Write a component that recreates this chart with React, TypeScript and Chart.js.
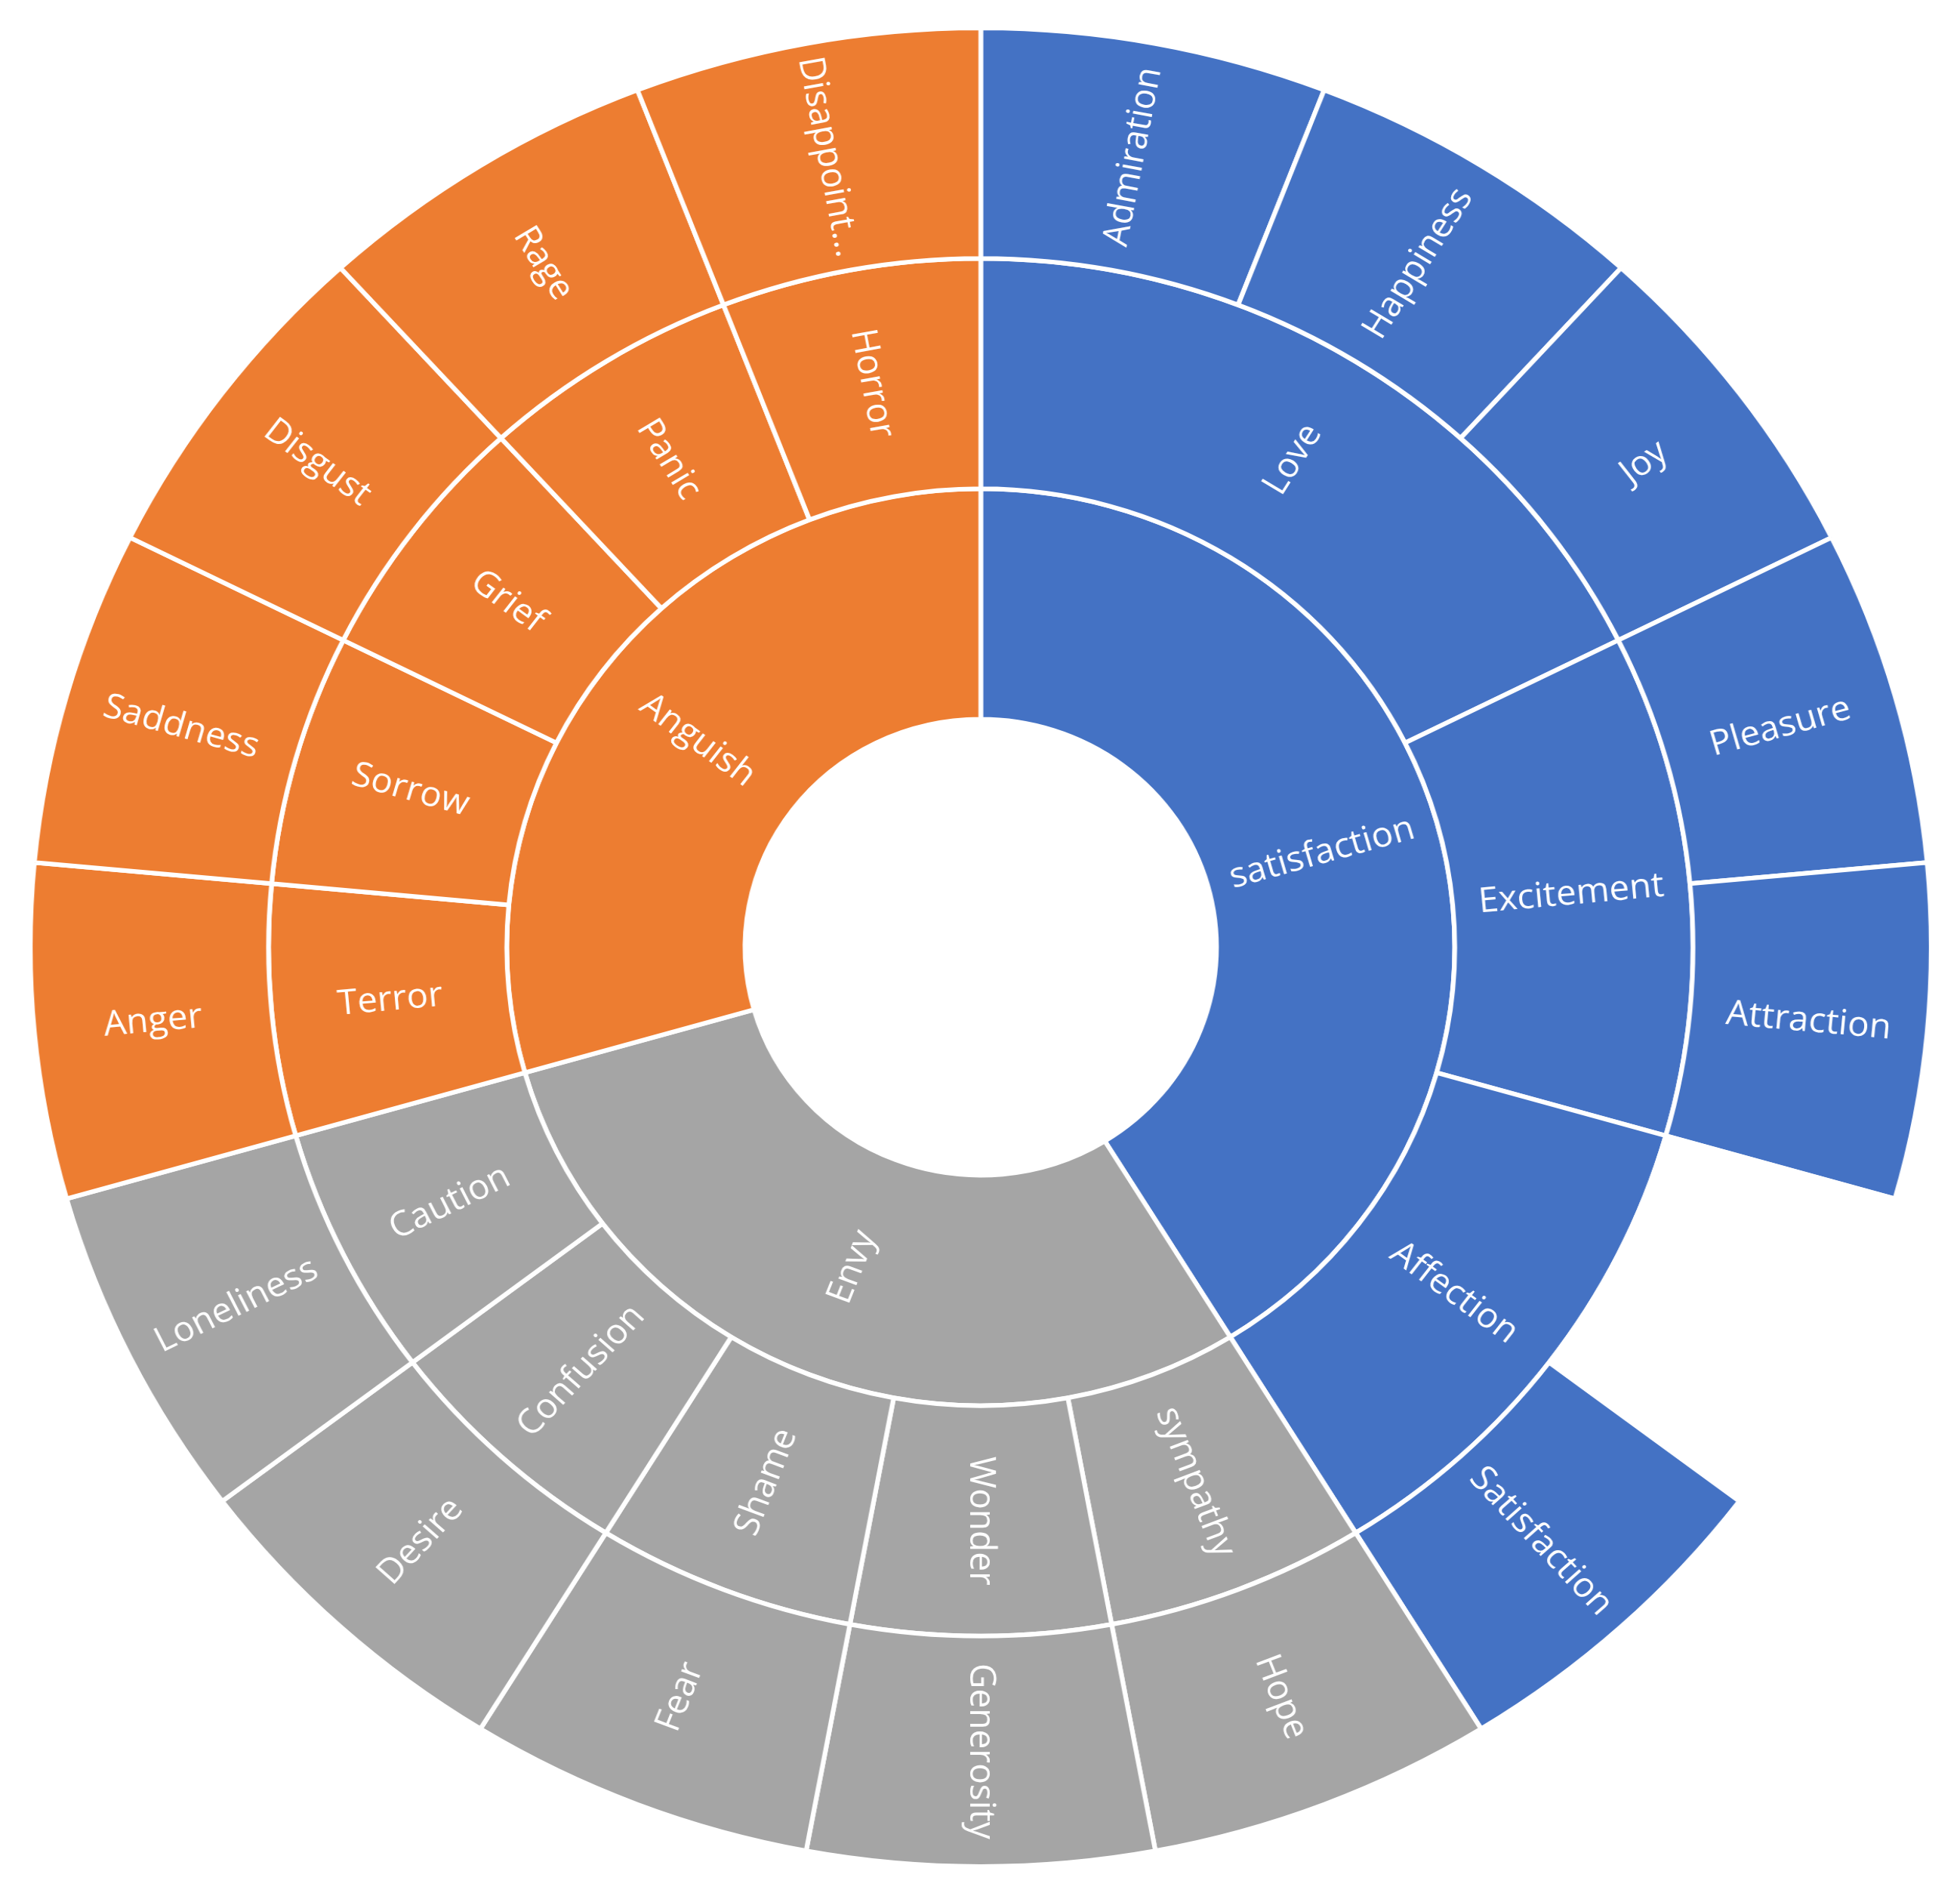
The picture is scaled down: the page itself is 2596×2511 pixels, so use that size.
import React, { useEffect, useRef } from "react";
import { Chart, registerables } from "chart.js";

Chart.register(...registerables);

// Branch colours (Office palette)
const branchColors = ["#4472C4", "#A5A5A5", "#ED7D31"];

// Inner ring (level 1)
const innerLabels = ["satisfaction", "Envy", "Anguish"];
const innerValues = [7, 5, 5];
const innerGroups = [0, 1, 2];

// Middle ring (level 2)
const middleLabels = [
  "Love", "Excitement", "Affection",
  "sympathy", "Wonder", "Shame", "Confusion", "Caution",
  "Terror", "Sorrow", "Grief", "Panic", "Horror",
];
const middleValues = [3, 2, 2, 1, 1, 1, 1, 1, 1, 1, 1, 1, 1];
const middleGroups = [0, 0, 0, 1, 1, 1, 1, 1, 2, 2, 2, 2, 2];

// Outer ring (level 3); "" = Affection's own share with no child (empty)
const outerLabels = [
  "Admiration", "Happiness", "Joy", "Pleasure", "Attraction", "", "Satisfaction",
  "Hope", "Generosity", "Fear", "Desire", "Loneliness",
  "Anger", "Saddness", "Disgust", "Rage", "Disappoint...",
];
const outerValues = [1, 1, 1, 1, 1, 1, 1, 1, 1, 1, 1, 1, 1, 1, 1, 1, 1];
const outerGroups = [0, 0, 0, 0, 0, -1, 0, 1, 1, 1, 1, 1, 2, 2, 2, 2, 2];

const SIZE = 2441;
const STRETCH_X = 1.034;

function colorsFor(groups: number[]) {
  return groups.map((g) => (g < 0 ? "rgba(0,0,0,0)" : branchColors[g]));
}

export default function App() {
  const ref = useRef<HTMLCanvasElement>(null);

  useEffect(() => {
    const canvas = ref.current;
    if (!canvas) return;
    const labelsByDataset = [outerLabels, middleLabels, innerLabels];

    const labelPlugin = {
      id: "sunburstLabels",
      afterDatasetsDraw(chart: any) {
        const ctx = chart.ctx;
        ctx.save();
        ctx.fillStyle = "#FFFFFF";
        ctx.font = "46px 'Open Sans'";
        ctx.textAlign = "center";
        ctx.textBaseline = "middle";
        chart.data.datasets.forEach((_ds: any, di: number) => {
          const meta = chart.getDatasetMeta(di);
          meta.data.forEach((el: any, i: number) => {
            const text = labelsByDataset[di][i];
            if (!text) return;
            const p = el.getProps(
              ["x", "y", "startAngle", "endAngle", "innerRadius", "outerRadius"],
              true
            );
            const a = (p.startAngle + p.endAngle) / 2;
            const r = (p.innerRadius + p.outerRadius) / 2;
            const px = p.x + r * Math.cos(a);
            const py = p.y + r * Math.sin(a);
            let theta = a + Math.PI / 2;
            theta = ((theta % (2 * Math.PI)) + 2 * Math.PI) % (2 * Math.PI);
            const rot = theta <= Math.PI + 1e-6 ? a : a + Math.PI;
            ctx.save();
            ctx.translate(px, py);
            ctx.rotate(rot);
            ctx.fillText(text, 0, 0);
            ctx.restore();
          });
        });
        ctx.restore();
      },
    };

    const common = {
      borderColor: "#FFFFFF",
      borderWidth: 6,
      hoverBorderWidth: 6,
      hoverOffset: 0,
      offset: 0,
    };

    const chart = new Chart(canvas, {
      type: "doughnut",
      data: {
        labels: outerLabels,
        datasets: [
          { data: outerValues, backgroundColor: colorsFor(outerGroups), ...common },
          { data: middleValues, backgroundColor: colorsFor(middleGroups), ...common },
          { data: innerValues, backgroundColor: colorsFor(innerGroups), ...common },
        ],
      },
      options: {
        responsive: false,
        animation: false,
        devicePixelRatio: 1,
        events: [],
        cutout: "24.8%",
        layout: { padding: 0 },
        plugins: {
          legend: { display: false },
          tooltip: { enabled: false },
        },
      } as any,
      plugins: [labelPlugin],
    });

    return () => chart.destroy();
  }, []);

  return (
    <div
      style={{
        position: "absolute",
        left: 36.5,
        top: 34,
        width: SIZE,
        height: SIZE,
        transform: `scaleX(${STRETCH_X})`,
        transformOrigin: "0 0",
      }}
    >
      <canvas
        ref={ref}
        width={SIZE}
        height={SIZE}
        style={{ width: SIZE, height: SIZE, display: "block" }}
      />
    </div>
  );
}
